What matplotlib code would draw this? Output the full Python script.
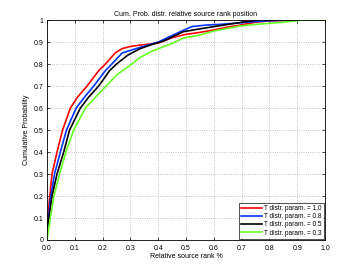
import numpy as np
import matplotlib
matplotlib.use("Agg")
import matplotlib.pyplot as plt

# curves (x = relative rank, y = cumulative prob.)
red_x = [0, 0.003, 0.01, 0.018, 0.036, 0.056, 0.084, 0.11, 0.144, 0.186, 0.21,
         0.245, 0.27, 0.30, 0.335, 0.40, 0.45, 0.50, 0.55, 0.60, 0.65, 0.694, 0.75, 0.79, 0.85, 0.9]
red_y = [0.02, 0.1, 0.2, 0.3, 0.4, 0.5, 0.6, 0.65, 0.7, 0.77, 0.8,
         0.85, 0.87, 0.88, 0.886, 0.895, 0.92, 0.935, 0.944, 0.955, 0.968, 0.977, 0.99, 0.995, 0.998, 1.0]

blue_x = [0, 0.005, 0.014, 0.027, 0.048, 0.07, 0.105, 0.135, 0.168, 0.21, 0.233, 0.27,
          0.32, 0.36, 0.40, 0.45, 0.52, 0.57, 0.62, 0.67, 0.72, 0.77, 0.82, 0.86]
blue_y = [0.03, 0.1, 0.2, 0.3, 0.4, 0.5, 0.6, 0.65, 0.7, 0.77, 0.8, 0.85,
          0.87, 0.885, 0.90, 0.93, 0.97, 0.977, 0.98, 0.985, 0.99, 0.995, 0.998, 1.0]

black_x = [0, 0.007, 0.018, 0.036, 0.06, 0.081, 0.12, 0.15, 0.186, 0.225, 0.25,
           0.29, 0.335, 0.38, 0.42, 0.49, 0.55, 0.6, 0.65, 0.7, 0.755]
black_y = [0.05, 0.1, 0.2, 0.3, 0.4, 0.5, 0.6, 0.65, 0.7, 0.77, 0.8,
           0.84, 0.87, 0.89, 0.905, 0.947, 0.96, 0.97, 0.98, 0.99, 1.0]

green_x = [0, 0.012, 0.025, 0.045, 0.068, 0.096, 0.138, 0.175, 0.213, 0.25, 0.305,
           0.335, 0.38, 0.453, 0.49, 0.55, 0.6, 0.694, 0.75, 0.8, 0.85, 0.917, 1.0]
green_y = [0, 0.1, 0.2, 0.3, 0.4, 0.5, 0.6, 0.65, 0.7, 0.75, 0.8,
           0.83, 0.86, 0.895, 0.918, 0.932, 0.95, 0.973, 0.98, 0.985, 0.99, 1.0, 1.0]

labels = ["T distr. param. = 1.0", "T distr. param. = 0.8",
          "T distr. param. = 0.5", "T distr. param. = 0.3"]
colors = ["#ff0000", "#0033ff", "#000000", "#66ff22"]

plt.rcParams["font.family"] = ["Liberation Sans", "DejaVu Sans"]
fig = plt.figure(figsize=(3.6, 2.71), dpi=100)
ax = fig.add_axes([0.1306, 0.1144, 0.7722, 0.8116])

series = [(red_x, red_y), (blue_x, blue_y), (black_x, black_y), (green_x, green_y)]
for (x, y), c, lab in zip(series, colors, labels):
    ax.plot(x, y, color=c, lw=1.2, label=lab)

ax.set_xlim(0, 1)
ax.set_ylim(0, 1)
ax.set_xticks(np.arange(0, 1.01, 0.1))
ax.set_xticklabels(["%.1f" % v for v in np.arange(0, 1.01, 0.1)])
ax.set_yticks(np.arange(0, 1.01, 0.1))
ax.set_yticklabels(["0"] + ["%.1f" % v for v in np.arange(0.1, 0.95, 0.1)] + ["1"])
ax.tick_params(labelsize=5, length=2, width=0.5, direction="in",
               right=True, top=True)
ax.tick_params(axis="x", pad=3.5)
ax.tick_params(axis="y", pad=2.5)
ax.grid(True, linestyle=":", color="#b0b0b0", lw=0.6)
for s in ax.spines.values():
    s.set_linewidth(0.6)
ax.set_title("Cum. Prob. distr. relative source rank position", fontsize=5, pad=3)
ax.set_xlabel("Relative source rank %", fontsize=5, labelpad=0.5)
ax.set_ylabel("Cumulative Probability", fontsize=5, labelpad=3)

leg = ax.legend(loc="lower right", fontsize=4.7, frameon=True, fancybox=False,
                borderaxespad=0.2, handlelength=3.2, labelspacing=0.2,
                borderpad=0.3, handletextpad=0.3)
leg.get_frame().set_edgecolor("black")
leg.get_frame().set_linewidth(0.6)

fig.savefig("out.png", dpi=100)
